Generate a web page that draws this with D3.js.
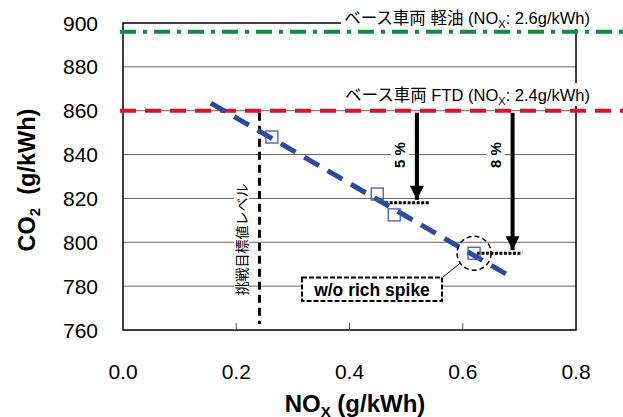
<!DOCTYPE html>
<html>
<head>
<meta charset="utf-8">
<script src="https://cdn.jsdelivr.net/npm/d3@7"></script>
<style>
  html, body { margin: 0; padding: 0; background: #fff; }
  svg { display: block; font-family: "Liberation Sans", Arial, sans-serif; }
  .jp { font-family: "Liberation Sans", "Noto Sans CJK JP", sans-serif; }
</style>
</head>
<body>
<div id="chart"></div>
<script>
const width = 623;
const height = 417;

// data
const xTicks = [0.0, 0.2, 0.4, 0.6, 0.8];
const yTicks = [760, 780, 800, 820, 840, 860, 880, 900];
const points = [[0.263, 848], [0.449, 822], [0.479, 812.5], [0.62, 795]];
const trend = [[0.155, 863.5], [0.68, 785]];
const baseDiesel = 896;   // ベース車両 軽油
const baseFTD = 860;      // ベース車両 FTD
const targetNox = 0.241;  // 挑戦目標値レベル
const arrows = [
  { x: 0.519, from: 860, to: 818, label: "5 %" },
  { x: 0.688, from: 860, to: 795, label: "8 %" }
];
const levels = [
  { x0: 0.463, x1: 0.542, y: 818 },
  { x0: 0.625, x1: 0.705, y: 795 }
];
const highlight = points[3];

const x = d3.scaleLinear().domain([0, 0.8]).range([123, 576]);
const y = d3.scaleLinear().domain([760, 900]).range([330, 23]);

const svg = d3.create("svg")
  .attr("width", width)
  .attr("height", height);

svg.append("rect").attr("width", width).attr("height", height).attr("fill", "#fff");

// grid
svg.append("g")
  .selectAll("line")
  .data(yTicks.filter(d => d > 760 && d < 900))
  .join("line")
  .attr("x1", x(0)).attr("x2", x(0.8))
  .attr("y1", d => y(d)).attr("y2", d => y(d))
  .attr("stroke", "#666")
  .attr("stroke-width", 1);

// frame
svg.append("rect")
  .attr("x", x(0)).attr("y", y(900))
  .attr("width", x(0.8) - x(0)).attr("height", y(760) - y(900))
  .attr("fill", "none").attr("stroke", "#000").attr("stroke-width", 1.5);

// x ticks (inside)
svg.append("g")
  .selectAll("line")
  .data(xTicks.slice(1, -1))
  .join("line")
  .attr("x1", d => x(d)).attr("x2", d => x(d))
  .attr("y1", y(760)).attr("y2", y(760) - 7)
  .attr("stroke", "#555");

// tick labels
svg.append("g")
  .attr("font-size", 21)
  .attr("text-anchor", "end")
  .selectAll("text")
  .data(yTicks)
  .join("text")
  .attr("x", 98)
  .attr("y", d => y(d))
  .attr("dy", "0.36em")
  .text(d => d);

svg.append("g")
  .attr("font-size", 21)
  .attr("text-anchor", "middle")
  .selectAll("text")
  .data(xTicks)
  .join("text")
  .attr("x", d => x(d))
  .attr("y", 379)
  .text(d => d.toFixed(1));

// axis titles
const yt = svg.append("text")
  .attr("transform", "translate(35,180) rotate(-90)")
  .attr("text-anchor", "middle")
  .attr("font-size", 23.5).attr("font-weight", "bold");
yt.append("tspan").text("CO");
yt.append("tspan").attr("font-size", 15).attr("dy", 5).text("2");
yt.append("tspan").attr("dy", -5).text("\u00a0\u00a0(g/kWh)");

// bottom of this title is clipped by the page edge, as in the original
const xt = svg.append("text")
  .attr("x", 355).attr("y", 412)
  .attr("text-anchor", "middle")
  .attr("font-size", 24).attr("font-weight", "bold");
xt.append("tspan").text("NO");
xt.append("tspan").attr("font-size", 15).attr("dy", 5).text("X");
xt.append("tspan").attr("dy", -5).text(" (g/kWh)");

// base lines
svg.append("line")
  .attr("x1", x(0) - 3).attr("x2", width)
  .attr("y1", y(baseDiesel)).attr("y2", y(baseDiesel))
  .attr("stroke", "#0a8f3c").attr("stroke-width", 4)
  .attr("stroke-dasharray", "16,7,4,7");

svg.append("line")
  .attr("x1", x(0) - 3).attr("x2", width)
  .attr("y1", y(baseFTD)).attr("y2", y(baseFTD))
  .attr("stroke", "#e0102c").attr("stroke-width", 4)
  .attr("stroke-dasharray", "16,9");

// line labels on white
function baseLabel (yc, name, nox) {
  const g = svg.append("g");
  g.append("rect")
    .attr("x", 341).attr("y", yc - 12)
    .attr("width", 252).attr("height", 23)
    .attr("fill", "#fff");
  const t = g.append("text")
    .attr("class", "jp")
    .attr("x", 590).attr("y", yc)
    .attr("dy", "0.36em")
    .attr("text-anchor", "end")
    .attr("font-size", 16.5);
  t.append("tspan").text(name + " (NO");
  t.append("tspan").attr("font-size", 11).attr("dy", 4).text("X");
  t.append("tspan").attr("dy", -4).text(": " + nox + "g/kWh)");
}
baseLabel(18, "ベース車両 軽油", "2.6");
baseLabel(95, "ベース車両 FTD", "2.4");

// target level
svg.append("rect")
  .attr("x", 234).attr("y", 182).attr("width", 15).attr("height", 115)
  .attr("fill", "#fff");
svg.append("text")
  .attr("class", "jp")
  .attr("transform", `translate(241.5,239.5) rotate(-90)`)
  .attr("text-anchor", "middle")
  .attr("dy", "0.36em")
  .attr("font-size", 14)
  .text("挑戦目標値レベル");

svg.append("line")
  .attr("x1", x(targetNox)).attr("x2", x(targetNox))
  .attr("y1", y(baseFTD) + 2).attr("y2", y(760) - 6)
  .attr("stroke", "#000").attr("stroke-width", 3)
  .attr("stroke-dasharray", "8,5");

// arrows
svg.append("defs").append("marker")
  .attr("id", "arrowhead")
  .attr("viewBox", "0 -5 10 10")
  .attr("refX", 10).attr("refY", 0)
  .attr("markerUnits", "userSpaceOnUse")
  .attr("markerWidth", 16).attr("markerHeight", 14)
  .attr("orient", "auto")
  .append("path")
  .attr("d", "M0,-5L10,0L0,5Z")
  .attr("fill", "#000");

const ar = svg.append("g").selectAll("g").data(arrows).join("g");
ar.append("rect")
  .attr("x", d => x(d.x) - 26).attr("y", 138)
  .attr("width", 18).attr("height", 32)
  .attr("fill", "#fff");
ar.append("text")
  .attr("transform", d => `translate(${x(d.x) - 17},155) rotate(-90)`)
  .attr("text-anchor", "middle")
  .attr("dy", "0.36em")
  .attr("font-size", 15).attr("font-weight", "bold")
  .text(d => d.label);
ar.append("line")
  .attr("x1", d => x(d.x)).attr("x2", d => x(d.x))
  .attr("y1", d => y(d.from) + 2).attr("y2", d => y(d.to) - 3)
  .attr("stroke", "#000").attr("stroke-width", 4)
  .attr("marker-end", "url(#arrowhead)");

svg.append("g")
  .selectAll("line")
  .data(levels)
  .join("line")
  .attr("x1", d => x(d.x0)).attr("x2", d => x(d.x1))
  .attr("y1", d => y(d.y)).attr("y2", d => y(d.y))
  .attr("stroke", "#000").attr("stroke-width", 3)
  .attr("stroke-dasharray", "3,1.5");

// trend
svg.append("path")
  .datum(trend)
  .attr("d", d3.line().x(d => x(d[0])).y(d => y(d[1])))
  .attr("fill", "none")
  .attr("stroke", "#2a4a9e").attr("stroke-width", 5)
  .attr("stroke-dasharray", "17,10");

// points
svg.append("g")
  .selectAll("rect")
  .data(points)
  .join("rect")
  .attr("x", d => x(d[0]) - 6).attr("y", d => y(d[1]) - 6)
  .attr("width", 12).attr("height", 12)
  .attr("fill", "none")
  .attr("stroke", "#3a5cb8").attr("stroke-width", 1.3);

// w/o rich spike callout
svg.append("circle")
  .attr("cx", x(highlight[0])).attr("cy", y(highlight[1]))
  .attr("r", 17)
  .attr("fill", "none").attr("stroke", "#000").attr("stroke-width", 1.5)
  .attr("stroke-dasharray", "5,3");
svg.append("line")
  .attr("x1", x(highlight[0]) - 14).attr("y1", y(highlight[1]) + 10)
  .attr("x2", 443).attr("y2", 277)
  .attr("stroke", "#000").attr("stroke-width", 1);
svg.append("rect")
  .attr("x", 302).attr("y", 277.5).attr("width", 140).attr("height", 23.5)
  .attr("fill", "#fff").attr("stroke", "#000").attr("stroke-width", 2)
  .attr("stroke-dasharray", "5,2");
svg.append("text")
  .attr("x", 372).attr("y", 290)
  .attr("dy", "0.36em")
  .attr("text-anchor", "middle")
  .attr("font-size", 17.5).attr("font-weight", "bold")
  .text("w/o rich spike");

document.getElementById("chart").appendChild(svg.node());
</script>
</body>
</html>
